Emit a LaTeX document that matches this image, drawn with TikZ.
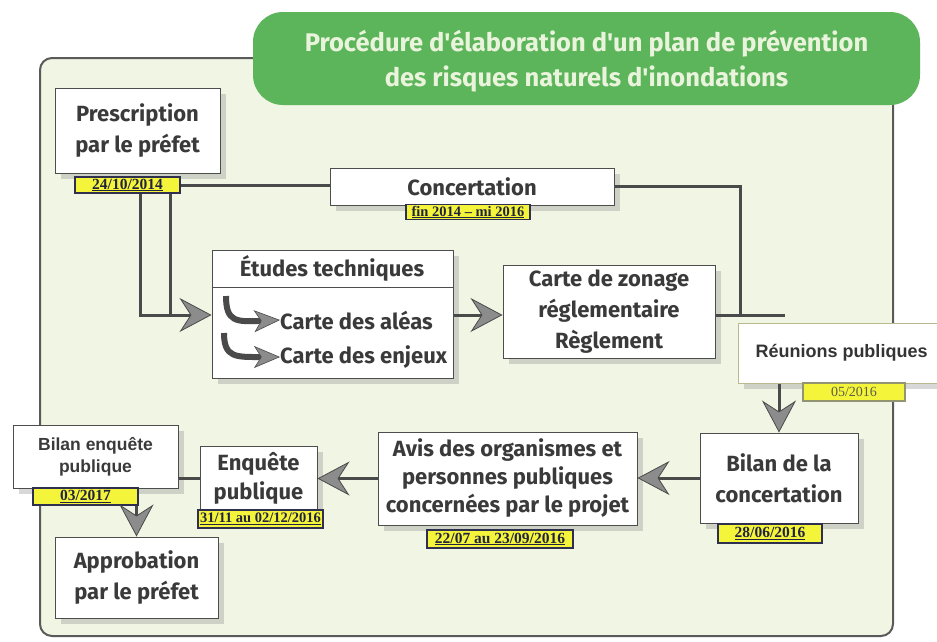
\documentclass[tikz,border=0pt]{standalone}
\usepackage{fontspec}
\setmainfont{Fira Sans}[Ligatures=TeXOff]
\newfontfamily\arialf{Liberation Sans}
\newfontfamily\timesf{Liberation Serif}
\usetikzlibrary{arrows.meta,shadows,calc}
\definecolor{framebg}{HTML}{F1F5E3}
\definecolor{frameline}{HTML}{5A5A5A}
\definecolor{titlegreen}{HTML}{5CB55A}
\definecolor{titletxt}{HTML}{EAF4DC}
\definecolor{txt}{HTML}{3A3A3A}
\definecolor{boxline}{HTML}{4D4D4D}
\definecolor{lineg}{HTML}{4A4A4A}
\definecolor{arrg}{HTML}{8C8C8C}
\definecolor{dateyel}{HTML}{F4F53A}
\definecolor{datel}{HTML}{2F2F4F}
\definecolor{datetxt}{HTML}{22243F}
\definecolor{olive}{HTML}{B8B98C}
\begin{document}
\begin{tikzpicture}[x=1pt,y=-1pt,
  box/.style={draw=boxline, line width=1pt, fill=white, align=center, inner sep=0pt, text=txt,
    font=\bfseries\fontsize{22}{31}\selectfont,
    drop shadow={opacity=0.3, shadow xshift=6pt, shadow yshift=-6pt}},
  datebox/.style={draw=datel, fill=dateyel, line width=1.1pt, inner sep=0pt, text=datetxt,
    font=\timesf\bfseries\fontsize{15.5}{16}\selectfont},
  conn/.style={draw=lineg, line width=3pt},
  arr/.style={conn, -{Stealth[length=32pt,width=34pt,inset=11pt,line width=0.8pt,color=lineg,fill=arrg]}},
  curv/.style={draw=lineg, line width=6pt, -{Stealth[length=26pt,width=22pt,inset=7pt,line width=0.6pt,color=lineg,fill=arrg]}},
  intext/.style={text=txt, inner sep=0pt, font=\bfseries\fontsize{22}{25}\selectfont}
]
\useasboundingbox (0,0) rectangle (937,641);
\fill[white] (0,0) rectangle (937,641);
% frame
\draw[rounded corners=12pt, fill=framebg, draw=frameline, line width=2pt] (40,58) rectangle (893,636);
% title
\node[fill=titlegreen, rounded corners=30pt, minimum width=667pt, minimum height=93pt, inner sep=0pt] (titlebox) at (586.5,58.5) {};
\node[align=center, inner sep=0pt, text=titletxt, font=\bfseries\fontsize{25.5}{35}\selectfont] (title) at (586.5,61.5)
  {Procédure d'élaboration d'un plan de prévention\\des risques naturels d'inondations};

\coordinate (p1) at (140,315);
\coordinate (p2) at (170,315);
\coordinate (j) at (740,315);
\coordinate (r) at (785,315);

% boxes
\node[box, minimum width=165pt, minimum height=85pt] (presc) at (137.5,130.5) {Prescription\\par le préfet};
\node[datebox, minimum width=105pt, minimum height=16pt] (d1) at (127.5,185) {\underline{24/10/2014}};

\node[box, minimum width=284pt, minimum height=37pt] (conc) at (472,186.5) {Concertation};
\node[datebox, minimum width=124pt, minimum height=15pt, font=\timesf\bfseries\fontsize{14.5}{15}\selectfont] (d2) at (468,212) {\underline{fin 2014 – mi 2016}};

\node[box, minimum width=241pt, minimum height=128pt] (etudes) at (332.5,314) {};
\draw[boxline, line width=1.2pt] (etudes.north west) ++(0,38) -- ++(241,0);
\node[intext] (et) at (332,268) {Études techniques};
\node[intext, anchor=west] (ca) at (280,320) {Carte des aléas};
\node[intext, anchor=west] (ce) at (280,357) {Carte des enjeux};
\coordinate (c1) at (226,296);
\coordinate (c2) at (224,333);
\draw[curv] (c1) .. controls (226,322) and (236,322) .. (ca.west);
\draw[curv] (c2) .. controls (224,358) and (236,357) .. (ce.west);

\node[box, minimum width=212pt, minimum height=93pt] (zonage) at (609,311.5) {Carte de zonage\\réglementaire\\Règlement};

\node[box, draw=olive, minimum width=207pt, minimum height=60pt, font=\arialf\bfseries\fontsize{18}{22}\selectfont, text=txt!90!black] (reunions) at (841.5,353) {Réunions publiques};
\node[datebox, draw=olive!80!black, minimum width=102pt, minimum height=18pt, font=\timesf\fontsize{14}{14}\selectfont, text=olive!50!black] (d3) at (854,392) {05/2016};

\node[box, minimum width=158pt, minimum height=90pt] (bilanc) at (779,478) {Bilan de la\\concertation};
\node[datebox, minimum width=104pt, minimum height=19pt] (d4) at (770,533.5) {\underline{28/06/2016}};

\node[box, minimum width=259pt, minimum height=93pt, font=\bfseries\fontsize{22}{28}\selectfont] (avis) at (507.5,478.5) {Avis des organismes et\\personnes publiques\\concernées par le projet};
\node[datebox, minimum width=146pt, minimum height=18pt] (d5) at (500,539) {\underline{22/07 au 23/09/2016}};

\node[box, minimum width=117pt, minimum height=64pt, font=\bfseries\fontsize{22}{29}\selectfont] (enq) at (258.5,478) {Enquête\\publique};
\node[datebox, minimum width=125pt, minimum height=18pt, font=\timesf\bfseries\fontsize{14.5}{15}\selectfont] (d6) at (260.5,519) {\underline{31/11 au 02/12/2016}};

\node[box, minimum width=165pt, minimum height=63pt, font=\arialf\bfseries\fontsize{17.5}{22}\selectfont] (bilane) at (95.5,456.5) {Bilan enquête\\publique};
\node[datebox, minimum width=105pt, minimum height=17pt] (d7) at (85.5,496.5) {\underline{03/2017}};

\node[box, minimum width=163pt, minimum height=81pt] (appro) at (136.5,577.5) {Approbation\\par le préfet};

% connectors
\draw[conn] (d1.east) -- (d1.east -| conc.west);
\draw[conn] (conc.east) -| (j);
\draw[conn] (zonage.east |- j) -- (r);
\draw[conn] (d1.south -| p2) -- (p2);
\draw[arr] (d1.south -| p1) -- (p1) -- (p1 -| etudes.west);
\draw[arr] (etudes.east |- p1) -- (etudes.east |- p1 -| zonage.west);
\draw[arr] (bilanc.north |- reunions.south) -- (bilanc.north);
\draw[arr] (bilanc.west) -- (bilanc.west -| avis.east);
\draw[arr] (avis.west) -- (avis.west -| enq.east);
\draw[conn] (enq.west) -- (enq.west -| bilane.east);
\draw[arr] (appro.north |- d7.south) -- (appro.north);
\end{tikzpicture}
\end{document}
